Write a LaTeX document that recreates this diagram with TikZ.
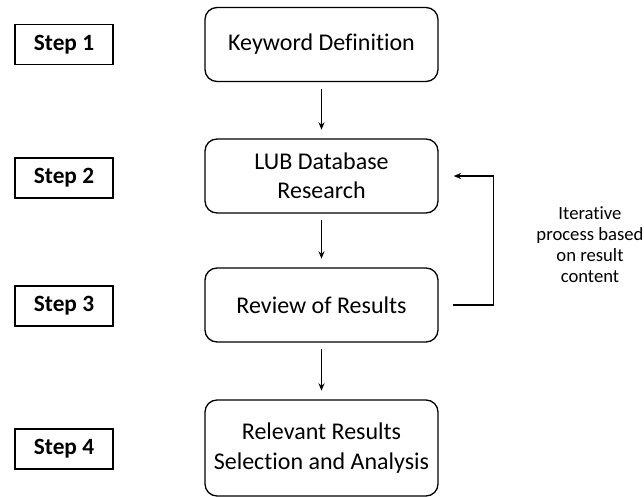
\documentclass[tikz,border=0pt]{standalone}
\usepackage{fontspec}
\setmainfont{Carlito}[RawFeature={-liga}]
\usetikzlibrary{arrows.meta,calc}

\begin{document}
\begin{tikzpicture}[x=0.75pt,y=0.75pt,yscale=-1,xscale=1,
  stepbox/.style={draw, line width=1pt, minimum width=73.5pt, minimum height=30pt, inner sep=0pt, font=\fontsize{17.5}{21}\selectfont\bfseries},
  phase/.style={draw, line width=1pt, rounded corners=9pt, minimum width=174.75pt, minimum height=55.5pt, align=center, inner sep=0pt, font=\fontsize{18}{22}\selectfont},
  flow/.style={line width=0.9pt, shorten <=5pt, shorten >=6.5pt, -{Stealth[length=5.5pt,width=4.5pt]}},
  note/.style={align=center, inner sep=0.75pt, font=\fontsize{14}{15.75}\selectfont}]

\useasboundingbox (0,0) rectangle (644,497);

% step labels
\node [stepbox] (step1) at (64,44.5) {Step 1};
\node [stepbox] (step2) at (64,178) {Step 2};
\node [stepbox] (step3) at (64,306) {Step 3};
\node [stepbox] (step4) at (64,449) {Step 4};

% process boxes
\node [phase] (keyword) at (321.5,44.5) {Keyword Definition};
\node [phase] (research) at (321.5,176) {LUB Database\\Research};
\node [phase] (review) at (321.5,305) {Review of Results};
\node [phase, minimum height=72pt] (select) at (321.5,448) {Relevant Results\\Selection and Analysis};

\draw [flow] (keyword) -- (research);
\draw [flow] (research) -- (review);
\draw [flow] (review) -- (select);

% feedback loop
\coordinate (loopout) at ($(review.east)+(14,0)$);
\coordinate (loopin) at ($(research.east)+(15,0)$);
\draw [flow, shorten <=0pt, shorten >=0pt] (loopout) -- ++(41,0) |- (loopin);

\node [note] (iter) at (590,245) {Iterative\\process based\\on result\\content};

\end{tikzpicture}
\end{document}
